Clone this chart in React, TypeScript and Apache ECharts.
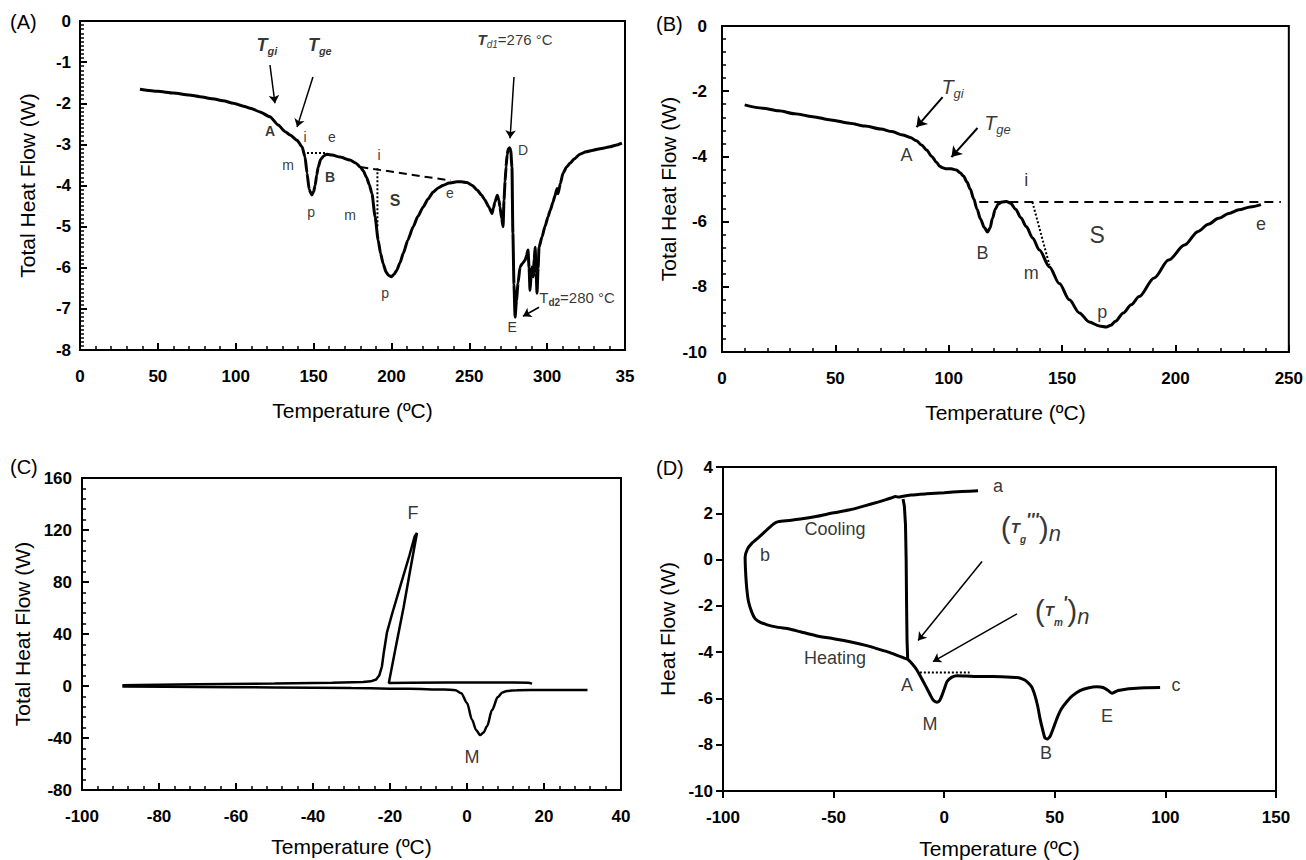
import React, { useEffect, useRef } from "react";
import * as echarts from "echarts";

const FONT = "'Liberation Sans', Arial, Helvetica, sans-serif";
const BLACK = "#000";

// ---------------- Panel A data ----------------
const curveA: number[][] = [
  [38.5, -1.66], [50, -1.71], [60, -1.75], [70, -1.8], [77, -1.84], [85, -1.89], [92, -1.94], [98.4, -2.0],
  [105, -2.07], [110, -2.13], [115.6, -2.21], [122, -2.33], [127.3, -2.53], [131.7, -2.69], [134.9, -2.77],
  [139.4, -2.9], [142.6, -3.06], [144.5, -3.3], [145.8, -3.7], [147.2, -4.1], [148.8, -4.23], [150, -4.15],
  [151, -4.0], [152, -3.75], [153, -3.55], [154.5, -3.37], [156.5, -3.28], [158.6, -3.24], [162, -3.26],
  [167, -3.31], [173.4, -3.38], [177, -3.45], [180, -3.55], [182, -3.65], [184, -3.8], [185.8, -3.98],
  [187.5, -4.2], [189.5, -4.76], [191.5, -5.33], [193, -5.65], [194.7, -5.9], [196.5, -6.1], [198, -6.18],
  [200, -6.22], [201.7, -6.16], [203.4, -6.06], [205.5, -5.88], [207.6, -5.65], [210.5, -5.33], [214, -5.0],
  [217, -4.75], [220.4, -4.52], [223.5, -4.33], [226.8, -4.16], [230, -4.06], [233, -4.0], [237, -3.94],
  [242, -3.91], [245, -3.91], [248.5, -3.93], [252, -4.0], [255, -4.11], [258, -4.24], [260, -4.35],
  [262.5, -4.52], [264.6, -4.68], [265.5, -4.55], [266.5, -4.4], [268, -4.24], [269, -4.35], [269.7, -4.52],
  [270.8, -4.8], [271.7, -5.0], [272.3, -4.35], [273, -3.9], [273.6, -3.55], [274.3, -3.25], [275, -3.12],
  [275.8, -3.08], [276.6, -3.14], [277.4, -3.55], [278, -5.16], [278.7, -6.4], [279.4, -7.2], [280.3, -6.8],
  [281.3, -6.38], [282.6, -5.98], [284, -5.9], [285.8, -5.82], [286.8, -5.7], [287.7, -5.57], [288.4, -6.0],
  [289, -6.55], [289.7, -6.2], [290.3, -5.98], [291, -6.22], [291.7, -5.8], [292.3, -5.5], [292.9, -6.1],
  [293.5, -6.62], [294.2, -6.0], [294.8, -5.5], [296.7, -5.25], [298.6, -5.0], [300.6, -4.76], [302, -4.6],
  [303.8, -4.4], [305, -4.25], [306.4, -4.07], [307, -4.2], [308.5, -3.95], [310.2, -3.7], [312.5, -3.55],
  [314.7, -3.46], [317.5, -3.35], [321, -3.24], [325, -3.18], [329.5, -3.14], [335, -3.1], [340.4, -3.06],
  [344, -3.02], [348, -2.97],
];
const dotBaseA: number[][] = [[143.2, -3.21], [157.4, -3.21]];
const dashBaseA: number[][] = [[180, -3.55], [238, -3.88]];
const dotVertA: number[][] = [[191, -3.58], [191, -5.0]];
const xTickLabelsA = ["0", "50", "100", "150", "200", "250", "300", "35"];
const arrowsA: number[][][] = [
  [[122, -1.07], [125.2, -2.0]],
  [[149.6, -1.36], [139.4, -2.58]],
  [[278.7, -1.36], [276.2, -2.85]],
  [[294.8, -6.96], [284.5, -7.18]],
];
const labelsA = [
  { t: "A", x: 122, y: -2.68, s: "smb" },
  { t: "i", x: 144.5, y: -2.82, s: "sm" },
  { t: "e", x: 161.8, y: -2.82, s: "sm" },
  { t: "m", x: 133.6, y: -3.5, s: "sm" },
  { t: "p", x: 148.4, y: -4.65, s: "sm" },
  { t: "B", x: 160.6, y: -3.8, s: "smb" },
  { t: "m", x: 173.4, y: -4.72, s: "sm" },
  { t: "i", x: 192, y: -3.26, s: "sm" },
  { t: "S", x: 202.3, y: -4.36, s: "Sb" },
  { t: "p", x: 196, y: -6.62, s: "sm" },
  { t: "e", x: 237.6, y: -4.18, s: "sm" },
  { t: "D", x: 284.5, y: -3.14, s: "sm" },
  { t: "E", x: 277.5, y: -7.45, s: "sm" },
  { t: "{T|T}{s|gi}", x: 120, y: -0.58, s: "tgA" },
  { t: "{T|T}{s|ge}", x: 154, y: -0.58, s: "tgA" },
  { t: "{T|T}{s|d1}{r|=276 °C}", x: 279.4, y: -0.46, s: "td1" },
  { t: "{r|T}{s|d2}{r|=280 °C}", x: 319.2, y: -6.72, s: "td2" },
];

// ---------------- Panel B data ----------------
const curveB: number[][] = [
  [10, -2.42], [18, -2.52], [25, -2.6], [32, -2.69], [40, -2.78], [48, -2.88], [56.3, -2.98], [63, -3.07],
  [70, -3.16], [75, -3.24], [79.7, -3.34], [83, -3.42], [85.8, -3.52], [88, -3.65], [90.2, -3.8], [92.5, -4.0],
  [94.6, -4.18], [96, -4.3], [97.3, -4.35], [99, -4.38], [101, -4.38], [103.4, -4.42], [105, -4.5],
  [106.5, -4.6], [108, -4.78], [109.5, -5.0], [111, -5.3], [112.5, -5.62], [114, -5.92], [115.7, -6.18],
  [117.1, -6.32], [118.2, -6.2], [119.3, -5.9], [120.5, -5.62], [121.8, -5.47], [123.5, -5.4], [125.4, -5.38],
  [127.3, -5.44], [129.5, -5.62], [131.8, -5.88], [134.2, -6.15], [137, -6.5], [140, -6.87], [144.4, -7.39],
  [148.8, -7.9], [153.2, -8.4], [157.6, -8.8], [162, -9.08], [166.4, -9.2], [169.5, -9.23], [171.5, -9.18],
  [173.5, -9.06], [177, -8.8], [180.5, -8.55], [184, -8.3], [190.6, -7.73], [197, -7.18], [204, -6.72],
  [210, -6.3], [214.5, -6.08], [219, -5.9], [223.5, -5.75], [228, -5.64], [233, -5.55], [237.7, -5.48],
];
const dashBaseB: number[][] = [[113.5, -5.4], [246.5, -5.4]];
const dotSlopeB: number[][] = [[136.9, -5.4], [144.4, -7.33]];
const arrowsB: number[][][] = [
  [[97.3, -2.18], [85.8, -3.1]],
  [[112.7, -3.13], [101.2, -4.02]],
];
const labelsB = [
  { t: "{T|T}{s|gi}", x: 101.7, y: -1.87, s: "tgB" },
  { t: "{T|T}{s|ge}", x: 121.5, y: -2.98, s: "tgB" },
  { t: "A", x: 81.4, y: -3.96, s: "md" },
  { t: "i", x: 134.2, y: -4.72, s: "md" },
  { t: "B", x: 114.9, y: -6.96, s: "md" },
  { t: "S", x: 165.5, y: -6.41, s: "lg" },
  { t: "e", x: 237.7, y: -6.07, s: "md" },
  { t: "m", x: 136.4, y: -7.58, s: "md" },
  { t: "p", x: 167.7, y: -8.77, s: "md" },
];

// ---------------- Panel C data ----------------
const coolingC: number[][] = [
  [16.9, 1.8], [16, 2.5], [12, 2.7], [5, 2.7], [-5, 2.6], [-15, 2.5], [-20.3, 2.4], [-18.5, 30], [-16.5, 60],
  [-14.7, 90], [-13, 117.7], [-13.6, 115], [-15, 100], [-17.4, 76], [-19.5, 55], [-20.8, 41], [-21.6, 26],
  [-22.1, 15], [-22.8, 8], [-23.6, 5], [-25, 3.6], [-27, 3.0], [-35, 2.5], [-50, 1.9], [-70, 1.3], [-85, 0.8],
  [-89.5, 0.5],
];
const heatingC: number[][] = [
  [-89.5, -0.3], [-70, -0.7], [-50, -1.1], [-30, -1.6], [-15, -2.2], [-6, -2.7], [-3, -3.2], [-1.5, -5.5],
  [0, -13], [1.3, -26], [2.4, -34], [3.4, -37.7], [4.3, -35.8], [5.2, -31], [6.5, -18.5], [8, -8.5],
  [9.2, -5], [10.4, -3.8], [13, -3.2], [20, -3.0], [31.3, -3.0],
];
const labelsC = [
  { t: "F", x: -14, y: 133, s: "md" },
  { t: "M", x: 1.3, y: -54.6, s: "md" },
];

// ---------------- Panel D data ----------------
const loopD: number[][] = [
  [15.3, 2.97], [8, 2.94], [0, 2.89], [-8, 2.84], [-15, 2.79], [-18.6, 2.74], [-20.5, 2.7], [-22, 2.72],
  [-24, 2.66], [-27, 2.57], [-30, 2.48], [-36, 2.32], [-42.6, 2.15], [-50, 2.02], [-58, 1.86], [-65, 1.75],
  [-70, 1.69], [-75, 1.64], [-77, 1.55], [-80, 1.3], [-84, 0.95], [-87, 0.7], [-89, 0.44], [-90, 0.1],
  [-89.8, -0.5], [-89.3, -1.2], [-88.5, -1.8], [-87, -2.27], [-85.5, -2.55], [-83.3, -2.7], [-80, -2.82],
  [-75.6, -2.92], [-70, -3.0], [-65, -3.12], [-57.5, -3.3], [-50, -3.42], [-42.6, -3.55], [-35, -3.72],
  [-27.7, -3.93], [-24, -4.04], [-21, -4.15], [-18.5, -4.24], [-16.4, -4.32], [-14.5, -4.5], [-12.5, -4.75],
  [-11, -5.0], [-9.3, -5.3], [-7.8, -5.57], [-6.3, -5.85], [-5, -6.07], [-3.3, -6.17], [-2, -6.08],
  [-1, -5.87], [0.2, -5.55], [1.3, -5.27], [3.5, -5.08], [5.8, -5.02], [10, -5.03], [16, -5.05], [22, -5.05],
  [28, -5.07], [33, -5.1], [35.5, -5.17], [37.4, -5.27], [39.5, -5.5], [41, -5.87], [42.3, -6.35],
  [43.3, -6.86], [44.5, -7.35], [45.5, -7.7], [46.5, -7.75], [47.8, -7.65], [49.3, -7.3], [51, -6.86],
  [53, -6.45], [55.5, -6.13], [58, -5.88], [61.4, -5.66], [65, -5.55], [69, -5.5], [71.8, -5.53], [74, -5.65],
  [75.9, -5.78], [77.2, -5.72], [78.6, -5.66], [82, -5.6], [85.4, -5.57], [91, -5.54], [97.6, -5.53],
];
const vertD: number[][] = [[-18.6, 2.62], [-18.0, 2.3], [-17.5, 1.5], [-17.2, 0], [-17, -2], [-16.8, -3.5], [-16.5, -4.3]];
const dotBaseD: number[][] = [[-11, -4.88], [11.5, -4.88]];
const arrowsD: number[][][] = [
  [[17.1, -0.08], [-11.8, -3.5]],
  [[32.9, -2.35], [-5.1, -4.41]],
];
const labelsD = [
  { t: "a", x: 24.3, y: 3.18, s: "md" },
  { t: "b", x: -81, y: 0.18, s: "md" },
  { t: "c", x: 104.8, y: -5.4, s: "md" },
  { t: "Cooling", x: -49.4, y: 1.3, s: "md" },
  { t: "Heating", x: -49.4, y: -4.24, s: "md" },
  { t: "A", x: -16.8, y: -5.4, s: "md" },
  { t: "M", x: -6.4, y: -7.1, s: "md" },
  { t: "E", x: 73.6, y: -6.77, s: "md" },
  { t: "B", x: 46, y: -8.36, s: "md" },
  { t: "{p|(}{T|T}{s|g}{q|'''}{p|)}{n|n}", x: 39.2, y: 1.38, s: "tgD" },
  { t: "{p|(}{T|T}{s|m}{q|'}{p|)}{n|n}", x: 53.3, y: -2.22, s: "tgD" },
];

// ---------------- layout ----------------
const grids = [
  { left: 80, top: 21, width: 545, height: 329 },
  { left: 722, top: 26, width: 568, height: 326 },
  { left: 82, top: 478, width: 539, height: 312 },
  { left: 723, top: 467, width: 553, height: 326 },
];
const panelLetters = [
  { t: "(A)", px: 10, py: 22 },
  { t: "(B)", px: 656, py: 24 },
  { t: "(C)", px: 10, py: 467 },
  { t: "(D)", px: 656, py: 468 },
];

const tok = (o: any) => ({ color: BLACK, fontFamily: FONT, ...o });
const STYLES: Record<string, any> = {
  sm: { fontSize: 14 },
  smb: { fontSize: 14, fontWeight: "bold" },
  Sb: { fontSize: 16, fontWeight: "bold" },
  md: { fontSize: 18 },
  lg: { fontSize: 23 },
  tgA: {
    fontSize: 18,
    rich: {
      T: tok({ fontSize: 18, fontWeight: "bold", fontStyle: "italic", lineHeight: 24 }),
      s: tok({ fontSize: 11, fontWeight: "bold", fontStyle: "italic", verticalAlign: "bottom", lineHeight: 12 }),
    },
  },
  td1: {
    fontSize: 15,
    rich: {
      T: tok({ fontSize: 15, fontStyle: "italic", fontWeight: "bold", lineHeight: 20 }),
      s: tok({ fontSize: 10, fontStyle: "italic", verticalAlign: "bottom", lineHeight: 11 }),
      r: tok({ fontSize: 15, lineHeight: 20 }),
    },
  },
  td2: {
    fontSize: 15,
    rich: {
      r: tok({ fontSize: 15, lineHeight: 20 }),
      s: tok({ fontSize: 10, fontWeight: "bold", verticalAlign: "bottom", lineHeight: 11 }),
    },
  },
  tgB: {
    fontSize: 19,
    rich: {
      T: tok({ fontSize: 20, fontStyle: "italic", lineHeight: 26 }),
      s: tok({ fontSize: 13, fontStyle: "italic", verticalAlign: "bottom", lineHeight: 13 }),
    },
  },
  tgD: {
    fontSize: 30,
    rich: {
      p: tok({ fontSize: 30, lineHeight: 34 }),
      T: tok({ fontSize: 15, fontWeight: "bold", fontStyle: "italic", lineHeight: 34 }),
      s: tok({ fontSize: 10, fontWeight: "bold", fontStyle: "italic", verticalAlign: "bottom", lineHeight: 22 }),
      q: tok({ fontSize: 18, fontWeight: "bold", fontStyle: "italic", verticalAlign: "top", lineHeight: 30 }),
      n: tok({ fontSize: 22, fontStyle: "italic", verticalAlign: "bottom", lineHeight: 24 }),
    },
  },
};

interface AxSpec {
  xmin: number; xmax: number; xint: number; xminor: number;
  ymin: number; ymax: number; yint: number; yminor: number;
  xname: string; yname: string; xgap: number; ygap: number; xmargin: number; ymargin: number;
  inside: boolean; xfmt?: (v: number) => string;
}

const specs: AxSpec[] = [
  { xmin: 0, xmax: 350, xint: 50, xminor: 5, ymin: -8, ymax: 0, yint: 1, yminor: 10, xname: "Temperature (ºC)", yname: "Total Heat Flow (W)", xgap: 50, ygap: 42, xmargin: 18, ymargin: 9, inside: true, xfmt: (v) => xTickLabelsA[Math.round(v / 50)] },
  { xmin: 0, xmax: 250, xint: 50, xminor: 5, ymin: -10, ymax: 0, yint: 2, yminor: 5, xname: "Temperature (ºC)", yname: "Total Heat Flow (W)", xgap: 50, ygap: 43, xmargin: 18, ymargin: 15, inside: true },
  { xmin: -100, xmax: 40, xint: 20, xminor: 5, ymin: -80, ymax: 160, yint: 40, yminor: 5, xname: "Temperature (ºC)", yname: "Total Heat Flow (W)", xgap: 46, ygap: 49, xmargin: 18, ymargin: 10, inside: true },
  { xmin: -100, xmax: 150, xint: 50, xminor: 0, ymin: -10, ymax: 4, yint: 2, yminor: 0, xname: "Temperature (ºC)", yname: "Heat Flow (W)", xgap: 47, ygap: 45, xmargin: 18, ymargin: 10, inside: false },
];

function buildAxes() {
  const xAxes: any[] = [];
  const yAxes: any[] = [];
  specs.forEach((s, i) => {
    const x: any = {
      type: "value", gridIndex: i, min: s.xmin, max: s.xmax, interval: s.xint,
      axisLine: { show: true, onZero: false, lineStyle: { color: BLACK, width: 2 } },
      axisTick: { show: true, inside: s.inside, length: 7, lineStyle: { color: BLACK, width: 2 } },
      minorTick: { show: s.xminor > 0, splitNumber: s.xminor || 5, length: 4, lineStyle: { color: BLACK, width: 1.5 } },
      axisLabel: { color: BLACK, fontWeight: "bold", fontSize: 17, margin: s.xmargin },
      splitLine: { show: false },
      name: s.xname, nameLocation: "middle", nameGap: s.xgap,
      nameTextStyle: { color: BLACK, fontSize: 21, fontFamily: FONT },
    };
    if (s.xfmt) x.axisLabel.formatter = s.xfmt;
    xAxes.push(x);
    yAxes.push({
      type: "value", gridIndex: i, min: s.ymin, max: s.ymax, interval: s.yint,
      axisLine: { show: true, onZero: false, lineStyle: { color: BLACK, width: 2 } },
      axisTick: { show: true, inside: s.inside, length: 7, lineStyle: { color: BLACK, width: 2 } },
      minorTick: { show: s.yminor > 0, splitNumber: s.yminor || 5, length: 4, lineStyle: { color: BLACK, width: 1.5 } },
      axisLabel: { color: BLACK, fontWeight: "bold", fontSize: 17, margin: s.ymargin },
      splitLine: { show: false },
      name: s.yname, nameLocation: "middle", nameGap: s.ygap, nameRotate: 90,
      nameTextStyle: { color: BLACK, fontSize: 21, fontFamily: FONT },
    });
  });
  return { xAxes, yAxes };
}

function lineSeries(i: number, data: number[][], width: number, type: any, smooth: number | boolean, mono: boolean, extra: any = {}) {
  const o: any = {
    type: "line", xAxisIndex: i, yAxisIndex: i, data, showSymbol: false,
    smooth, silent: true,
    lineStyle: { color: BLACK, width, type },
    ...extra,
  };
  if (mono) o.smoothMonotone = "x";
  return o;
}

function arrowMarks(pairs: number[][][], width: number, size: number) {
  return {
    markLine: {
      silent: true, symbol: ["none", "arrow"], symbolSize: size, label: { show: false },
      lineStyle: { color: BLACK, width, type: "solid" },
      data: pairs.map(([a, b]) => [{ coord: a }, { coord: b }]),
    },
  };
}

function labelSeries(i: number, list: { t: string; x: number; y: number; s: string }[]) {
  return {
    type: "scatter", xAxisIndex: i, yAxisIndex: i, symbolSize: 1, silent: true,
    itemStyle: { color: "rgba(0,0,0,0)" },
    data: list.map((l) => {
      const st = STYLES[l.s];
      const label: any = {
        show: true, position: "inside", formatter: l.t, color: BLACK, fontFamily: FONT,
        fontSize: st.fontSize, fontWeight: st.fontWeight || "normal", align: "center", verticalAlign: "middle",
      };
      if (st.rich) label.rich = st.rich;
      return { value: [l.x, l.y], label };
    }),
  };
}

function buildOption() {
  const { xAxes, yAxes } = buildAxes();
  return {
    animation: false,
    grid: grids.map((g) => ({ ...g, show: true, borderColor: BLACK, borderWidth: 2 })),
    xAxis: xAxes,
    yAxis: yAxes,
    series: [
      lineSeries(0, curveA, 3, "solid", 0.2, true, arrowMarks(arrowsA, 1.5, 8)),
      lineSeries(0, dotBaseA, 2, [2, 2], false, false),
      lineSeries(0, dashBaseA, 2, [8, 5], false, false),
      lineSeries(0, dotVertA, 2, [2, 2], false, false),
      lineSeries(1, curveB, 3, "solid", 0.3, true, arrowMarks(arrowsB, 2, 10)),
      lineSeries(1, dashBaseB, 2, [9, 6], false, false),
      lineSeries(1, dotSlopeB, 2, [2, 2], false, false),
      lineSeries(2, coolingC, 2.5, "solid", false, false),
      lineSeries(2, heatingC, 2.5, "solid", 0.3, true),
      lineSeries(3, loopD, 3, "solid", 0.2, false, arrowMarks(arrowsD, 1.5, 8)),
      lineSeries(3, vertD, 3, "solid", false, false),
      lineSeries(3, dotBaseD, 2, [2, 2], false, false),
      labelSeries(0, labelsA),
      labelSeries(1, labelsB),
      labelSeries(2, labelsC),
      labelSeries(3, labelsD),
    ],
    graphic: panelLetters.map((pl) => ({
      type: "text", x: pl.px, y: pl.py, silent: true,
      style: { text: pl.t, fill: BLACK, fontFamily: FONT, fontSize: 20, align: "left", verticalAlign: "middle" },
    })),
  };
}

export default function App() {
  const ref = useRef<HTMLDivElement>(null);
  useEffect(() => {
    if (!ref.current) return;
    const chart = echarts.init(ref.current, null, { renderer: "svg" });
    chart.setOption(buildOption() as any);
    return () => chart.dispose();
  }, []);
  return (
    <div
      ref={ref}
      style={{ position: "fixed", left: 0, top: 0, width: 1306, height: 860, background: "#fff" }}
    />
  );
}
